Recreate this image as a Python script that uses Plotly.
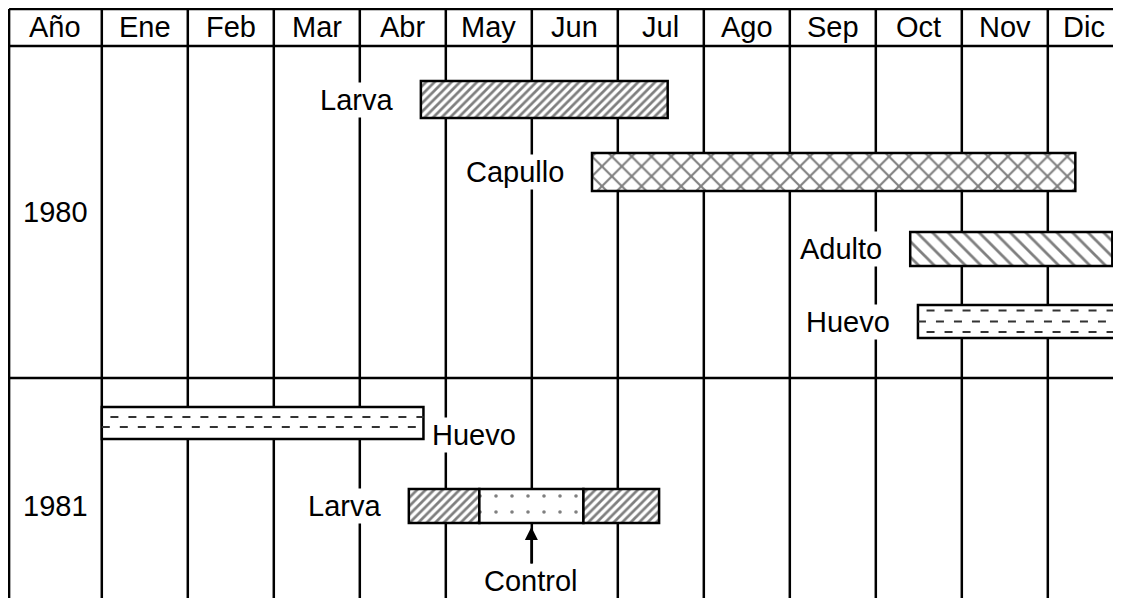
import plotly.graph_objects as go

# ---- data -------------------------------------------------------------
MONTHS = ["Ene", "Feb", "Mar", "Abr", "May", "Jun", "Jul", "Ago", "Sep", "Oct", "Nov", "Dic"]
YEARS = ["1980", "1981"]

# one row per bar segment: lane, stage, start / end in months (0 = 1 Ene)
SEG_LANE = [0, 1, 2, 3, 4, 5, 5, 5]
SEG_STAGE = ["Larva", "Capullo", "Adulto", "Huevo", "Huevo", "Larva", "Control", "Larva"]
SEG_START = [3.71, 5.70, 9.40, 9.49, 0.00, 3.57, 4.39, 5.60]
SEG_END = [6.58, 11.32, 11.75, 12.30, 3.74, 4.39, 5.60, 6.48]

# lane labels (year each lane belongs to, side of the label)
LANE_YEAR = ["1980", "1980", "1980", "1980", "1981", "1981"]
LANE_LABEL = ["Larva", "Capullo", "Adulto", "Huevo", "Huevo", "Larva"]
LANE_SIDE = ["left", "left", "left", "left", "right", "left"]

# ---- layout constants (y axis runs in page pixels) --------------------
# the page body has an 8px margin, so the figure covers page x/y 8..end
W, H = 1113, 590
X0, X1 = -1.0907, 11.851         # visible month range (page x 8 .. 1121)
ANO_LEFT = -1.078                # left border of the "Año" column
Y_TOP, Y_HEAD, Y_SPLIT = 9, 46, 378
Y_RANGE = [598, 8]
LANE_Y = [99.5, 172, 249, 321.5, 423, 506]
LANE_H = [37, 38, 34, 33, 32, 34]
LABEL_DY = [0, 0, 0, 0, 12, 0]
YEAR_Y = [212, 506]
HUEVO_ROWS = {3: [-11, 0, 10.5], 4: [-6, 4]}
FONT = "Liberation Sans, Arial, sans-serif"
FS = 29

STYLE = {
    "Larva": dict(shape="/", size=6, solidity=0.45),
    "Capullo": dict(shape="x", size=14, solidity=0.28),
    "Adulto": dict(shape="\\", size=11, solidity=0.25),
    "Huevo": dict(shape="", size=8, solidity=0.3),
    "Control": dict(shape=".", size=16, solidity=0.04),
}

fig = go.Figure()

# grid lines
line = dict(color="black", width=2.5)
shapes = []
for xv in [ANO_LEFT] + list(range(12)):
    shapes.append(dict(type="line", x0=xv, x1=xv, y0=Y_TOP, y1=Y_RANGE[0] + 5,
                       xref="x", yref="y", line=line, layer="below"))
for yv in (Y_TOP, Y_HEAD, Y_SPLIT):
    shapes.append(dict(type="line", x0=ANO_LEFT, x1=X1 + 1, y0=yv, y1=yv,
                       xref="x", yref="y", line=line, layer="below"))

# bars
for lane, stage, s, e in zip(SEG_LANE, SEG_STAGE, SEG_START, SEG_END):
    st = STYLE[stage]
    fig.add_trace(go.Bar(
        y=[LANE_Y[lane]], x=[e - s], base=[s], orientation="h", width=LANE_H[lane],
        marker=dict(color="white", line=dict(color="black", width=2.5),
                    pattern=dict(shape=st["shape"], size=st["size"], solidity=st["solidity"],
                                 fgcolor="black", bgcolor="white")),
        hoverinfo="skip", showlegend=False))

# dashed fill of the egg bars
for lane, stage, s, e in zip(SEG_LANE, SEG_STAGE, SEG_START, SEG_END):
    if stage != "Huevo":
        continue
    for i, off in enumerate(HUEVO_ROWS[lane]):
        shift = 0.0 if i % 2 else 0.1
        yy = LANE_Y[lane] + off
        fig.add_trace(go.Scatter(
            x=[s + shift, e], y=[yy, yy], mode="lines",
            line=dict(color="#333333", width=2, dash="8px,10px"),
            hoverinfo="skip", showlegend=False))

annotations = []
txt = dict(family=FONT, size=FS, color="black")

# header
head_y = (Y_TOP + Y_HEAD) / 2 - 1
annotations.append(dict(x=(ANO_LEFT + 0) / 2, y=head_y, text="Año",
                        showarrow=False, font=txt, xref="x", yref="y"))
for k, m in enumerate(MONTHS):
    annotations.append(dict(x=(k + min(k + 1, X1)) / 2, y=head_y, text=m,
                            showarrow=False, font=txt, xref="x", yref="y"))
# years
for yr, yy in zip(YEARS, YEAR_Y):
    annotations.append(dict(x=(ANO_LEFT + 0) / 2, y=yy, text=yr, showarrow=False,
                            font=txt, xref="x", yref="y"))

# lane labels
for lane, (lab, side) in enumerate(zip(LANE_LABEL, LANE_SIDE)):
    starts = [s for l, s in zip(SEG_LANE, SEG_START) if l == lane]
    ends = [e for l, e in zip(SEG_LANE, SEG_END) if l == lane]
    if side == "left":
        annotations.append(dict(x=min(starts), y=LANE_Y[lane] + LABEL_DY[lane], text=lab,
                                xanchor="right", xshift=-26, showarrow=False, font=txt,
                                bgcolor="white", xref="x", yref="y"))
    else:
        annotations.append(dict(x=max(ends), y=LANE_Y[lane] + LABEL_DY[lane], text=lab,
                                xanchor="left", xshift=7, showarrow=False, font=txt,
                                bgcolor="white", xref="x", yref="y"))

# control arrow
for lane, stage, s, e in zip(SEG_LANE, SEG_STAGE, SEG_START, SEG_END):
    if stage == "Control":
        annotations.append(dict(x=(s + e) / 2, y=LANE_Y[lane] + LANE_H[lane] / 2 + 4,
                                text="Control", showarrow=True, ax=0, ay=54,
                                arrowhead=2, arrowsize=1.3, arrowwidth=2, arrowcolor="black",
                                font=txt, bgcolor="white", xref="x", yref="y"))

fig.update_layout(
    width=W, height=H, margin=dict(l=0, r=0, t=0, b=0),
    paper_bgcolor="white", plot_bgcolor="white", barmode="overlay",
    xaxis=dict(range=[X0, X1], visible=False, fixedrange=True),
    yaxis=dict(range=Y_RANGE, visible=False, fixedrange=True),
    shapes=shapes, annotations=annotations, showlegend=False,
)

fig.write_html("out.html")
